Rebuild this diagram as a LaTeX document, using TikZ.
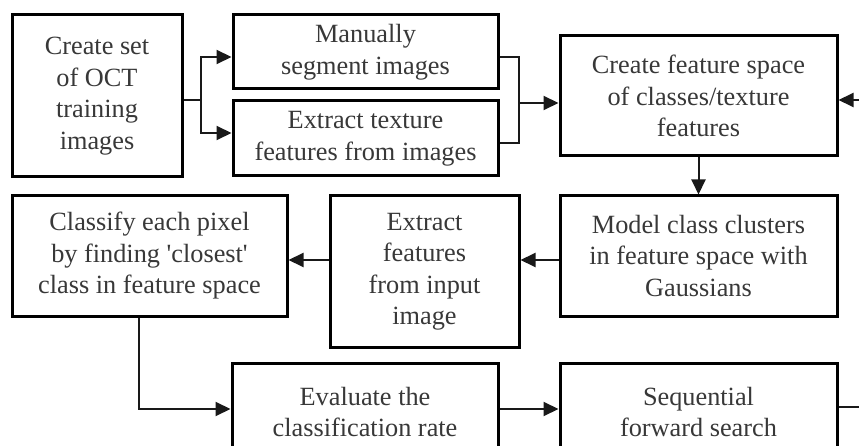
\documentclass[tikz,border=0pt]{standalone}
\usepackage{fontspec}
\setmainfont{Liberation Serif}
\usetikzlibrary{arrows.meta}
\begin{document}
\begin{tikzpicture}[x=1pt,y=-1pt,
  box/.style={draw=black, line width=3pt, rectangle, inner sep=0pt, align=center,
    text=black!78, font=\fontsize{26.3}{31.5}\selectfont},
  conn/.style={line width=2pt, draw=black!90},
  arr/.style={conn, -{Triangle[length=15pt,width=14pt]}}]
\useasboundingbox (0,0) rectangle (859,446);
\clip (0,0) rectangle (859,446);
\fill[white] (0,0) rectangle (859,446);

\node[box, minimum width=170pt, minimum height=162pt] (b1) at (97,96) {Create set\\of OCT\\training\\images};
\node[box, minimum width=265pt, minimum height=74pt] (man) at (365.5,52) {Manually\\segment images};
\node[box, minimum width=265pt, minimum height=75pt] (ext) at (365.5,138.5) {Extract texture\\features from images};
\node[box, minimum width=277pt, minimum height=120pt] (fs) at (698.5,96) {Create feature space\\of classes/texture\\features};
\node[box, minimum width=277pt, minimum height=120pt] (model) at (698.5,256) {Model class clusters\\in feature space with\\Gaussians};
\node[box, minimum width=189pt, minimum height=151pt] (exf) at (424.5,271.5) {Extract\\features\\from input\\image};
\node[box, minimum width=275pt, minimum height=120pt] (cls) at (149.5,256) {Classify each pixel\\by finding \textquotesingle closest\textquotesingle\\class in feature space};
\node[box, minimum width=266pt, minimum height=98pt] (eval) at (365,412) {Evaluate the\\classification rate};
\node[box, minimum width=277pt, minimum height=98pt] (seq) at (698.5,412) {Sequential\\forward search};

\coordinate (j1) at (201,100);
\coordinate (j2) at (519,103);
\coordinate (rin) at (859,100);
\coordinate (rout) at (859,407);

\draw[conn] ([yshift=-4pt]b1.east) -- (j1);
\draw[arr] (j1) |- ([yshift=-5pt]man.west);
\draw[arr] (j1) |- ([yshift=5.5pt]ext.west);
\draw[conn] ([yshift=-5pt]man.east) -| (j2);
\draw[conn] ([yshift=-4.5pt]ext.east) -| (j2);
\draw[arr] (j2) -- (fs.west |- j2);
\draw[arr] (rin) -- (fs.east |- rin);
\draw[arr] (fs.south) -- (model.north);
\draw[arr] ([yshift=-4pt]model.west) -- (exf.east |- 0,260);
\draw[arr] (exf.west |- 0,260) -- (cls.east |- 0,260);
\draw[arr] ([xshift=-10.5pt]cls.south) |- (eval.west |- 0,409);
\draw[arr] (eval.east |- 0,409) -- (seq.west |- 0,409);
\draw[conn] (seq.east |- rout) -- (rout);
\end{tikzpicture}
\end{document}
